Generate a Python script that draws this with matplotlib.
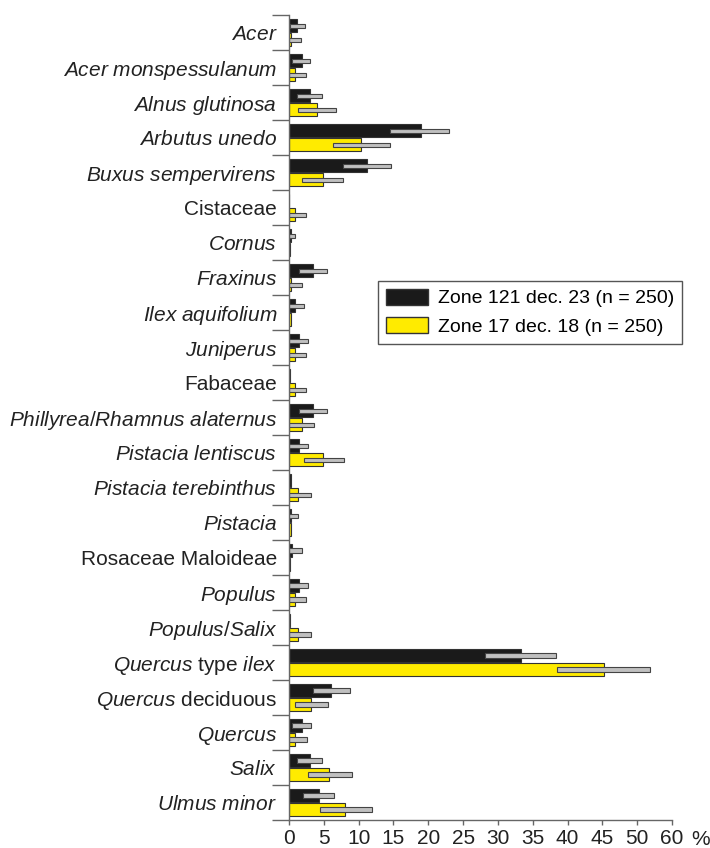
import matplotlib
matplotlib.use('Agg')
import matplotlib.pyplot as plt
from matplotlib.patches import Patch
import numpy as np

plt.rcParams['font.family'] = ['Liberation Sans', 'DejaVu Sans']
plt.rcParams['mathtext.fontset'] = 'custom'
plt.rcParams['mathtext.rm'] = 'Liberation Sans'
plt.rcParams['mathtext.it'] = 'Liberation Sans:italic'

taxa = [r'$\mathit{Acer}$', r'$\mathit{Acer\ monspessulanum}$', r'$\mathit{Alnus\ glutinosa}$',
        r'$\mathit{Arbutus\ unedo}$', r'$\mathit{Buxus\ sempervirens}$', 'Cistaceae',
        r'$\mathit{Cornus}$', r'$\mathit{Fraxinus}$', r'$\mathit{Ilex\ aquifolium}$',
        r'$\mathit{Juniperus}$', 'Fabaceae', r'$\mathit{Phillyrea/Rhamnus\ alaternus}$',
        r'$\mathit{Pistacia\ lentiscus}$', r'$\mathit{Pistacia\ terebinthus}$',
        r'$\mathit{Pistacia}$', 'Rosaceae Maloideae', r'$\mathit{Populus}$',
        r'$\mathit{Populus/Salix}$', r'$\mathit{Quercus}$ type $\mathit{ilex}$',
        r'$\mathit{Quercus}$ deciduous', r'$\mathit{Quercus}$', r'$\mathit{Salix}$',
        r'$\mathit{Ulmus\ minor}$']

# Zone 121 dec. 23
z121 = [1.2, 1.8, 3.0, 18.9, 11.2, 0.0, 0.3, 3.5, 0.9, 1.4, 0.2, 3.5,
        1.4, 0.24, 0.3, 0.5, 1.4, 0.2, 33.3, 6.0, 1.8, 3.0, 4.3]
z121_lo = [0.15, 0.4, 1.2, 14.5, 7.7, 0.0, 0.0, 1.5, 0.0, 0.0, 0.2, 1.5,
           0.0, 0.24, 0.0, 0.0, 0.0, 0.2, 28.1, 3.4, 0.5, 1.2, 2.0]
z121_hi = [2.3, 3.0, 4.7, 23.0, 14.6, 0.0, 0.8, 5.5, 2.1, 2.8, 0.2, 5.5,
           2.8, 0.24, 1.3, 1.8, 2.8, 0.2, 38.3, 8.7, 3.1, 4.8, 6.4]

# Zone 17 dec. 18
z17 = [0.3, 0.8, 4.0, 10.4, 4.9, 0.8, 0.2, 0.3, 0.3, 0.8, 0.8, 1.8,
       4.9, 1.3, 0.24, 0.15, 0.8, 1.3, 45.3, 3.1, 0.8, 5.8, 8.1]
z17_lo = [0.0, 0.0, 1.3, 6.3, 1.9, 0.0, 0.2, 0.0, 0.3, 0.0, 0.0, 0.0,
          2.1, 0.0, 0.24, 0.15, 0.0, 0.0, 38.5, 0.9, 0.0, 2.7, 4.4]
z17_hi = [1.7, 2.4, 6.7, 14.5, 7.8, 2.5, 0.2, 1.8, 0.3, 2.5, 2.5, 3.6,
          7.9, 3.1, 0.24, 0.15, 2.5, 3.2, 51.9, 5.6, 2.6, 9.0, 11.9]

xticks = [0, 5, 10, 15, 20, 25, 30, 35, 40, 45, 50, 55]
xlabels = ['0', '5', '10', '15', '20', '25', '30', '35', '40', '45', '50', '60']

fig = plt.figure(figsize=(7.1, 8.48), dpi=100)
ax = fig.add_axes([0.407, 0.033, 0.5395, 0.949])

y = np.arange(len(taxa))
bh = 0.36
off = 0.2
eh = 0.12

ax.barh(y - off, z121, height=bh, color='#1a1a1a', edgecolor='#333333', linewidth=0.8)
ax.barh(y + off, z17, height=bh, color='#ffeb00', edgecolor='#333333', linewidth=0.8)

# grey boxes = error range
lo = np.array(z121_lo); hi = np.array(z121_hi)
m = hi - lo > 0
ax.barh((y - off)[m], (hi - lo)[m], left=lo[m], height=eh, color='#c0c0c0',
        edgecolor='#444444', linewidth=0.8)
lo = np.array(z17_lo); hi = np.array(z17_hi)
m = hi - lo > 0
ax.barh((y + off)[m], (hi - lo)[m], left=lo[m], height=eh, color='#c0c0c0',
        edgecolor='#444444', linewidth=0.8)

ax.set_ylim(len(taxa) - 0.5, -0.5)
ax.set_xlim(0, 55)

ax.set_yticks(np.arange(len(taxa) + 1) - 0.5)
ax.set_yticklabels([])
ax.set_yticks(y, minor=True)
ax.set_yticklabels(taxa, minor=True, fontsize=15, color='#222222')
ax.tick_params(axis='y', which='major', length=12, width=1, color='#666666')
ax.tick_params(axis='y', which='minor', length=0, pad=8.5)

ax.set_xticks(xticks)
ax.set_xticklabels(xlabels, fontsize=15, color='#222222')
ax.tick_params(axis='x', length=3.5, width=1, color='#666666', pad=3)

for s in ['top', 'right']:
    ax.spines[s].set_visible(False)
for s in ['left', 'bottom']:
    ax.spines[s].set_color('#666666')
    ax.spines[s].set_linewidth(1)

ax.text(1.075, -0.0125, '%', transform=ax.transAxes, fontsize=15, color='#222222',
        va='top', ha='center')

handles = [Patch(facecolor='#1a1a1a', edgecolor='#333333', label='Zone 121 dec. 23 (n = 250)'),
           Patch(facecolor='#ffeb00', edgecolor='#333333', label='Zone 17 dec. 18 (n = 250)')]
leg = ax.legend(handles=handles, loc='upper left', bbox_to_anchor=(0.232, 0.670),
                fontsize=14, fancybox=False, edgecolor='#555555', framealpha=1,
                handlelength=2.2, handleheight=0.9, borderpad=0.4, labelspacing=0.5,
                handletextpad=0.5, borderaxespad=0)
leg.get_frame().set_linewidth(1)

fig.savefig('out.png', dpi=100)
